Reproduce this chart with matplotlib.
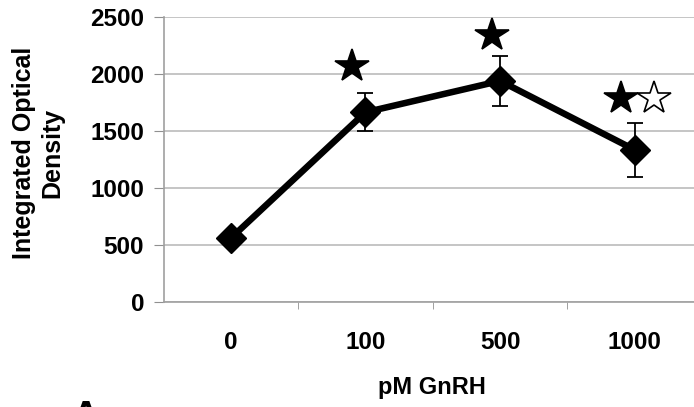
import matplotlib.pyplot as plt
import numpy as np

plt.rcParams['font.family'] = ['Liberation Sans', 'DejaVu Sans']

# data
doses = ['0', '100', '500', '1000']
iod = [560, 1665, 1940, 1335]
iod_err = [55, 165, 220, 240]

# significance stars (category index, height, filled)
star_x = [1 - 0.1, 2 - 0.06, 3 - 0.1, 3 + 0.14]
star_y = [2075, 2340, 1790, 1790]
star_filled = [True, True, True, False]

fig = plt.figure(figsize=(6.94, 4.07), dpi=100)
ax = fig.add_axes([0.2356, 0.258, 0.7644, 0.7])

x = np.arange(len(doses))
ax.errorbar(x, iod, yerr=iod_err, color='black', lw=4.7, marker='D',
            markersize=15, ecolor='black', elinewidth=1.3, capsize=5.5,
            capthick=1.3, zorder=3)

for sx, sy, f in zip(star_x, star_y, star_filled):
    ax.plot(sx, sy, marker='*', markersize=25, color='black',
            markerfacecolor='black' if f else 'white',
            markeredgewidth=1.2, zorder=4, clip_on=False)

ax.set_ylim(0, 2500)
ax.set_xlim(-0.5, 3.44)
ax.set_yticks(np.arange(0, 2501, 500))
ax.yaxis.grid(True, color='#c0c0c0', lw=1.3)
ax.set_axisbelow(True)

ax.set_xticks(x)
ax.set_xticklabels(doses, fontsize=17.5, fontweight='bold')
ax.set_xticks(x[:-1] + 0.5, minor=True)
ax.tick_params(axis='x', which='major', length=0, pad=21)
ax.tick_params(axis='x', which='minor', length=5, color='#909090')
ax.tick_params(axis='y', length=7, color='#909090', labelsize=17.5, pad=7)
for lbl in ax.get_yticklabels():
    lbl.set_fontweight('bold')

for s in ['top', 'right']:
    ax.spines[s].set_visible(False)
for s in ['left', 'bottom']:
    ax.spines[s].set_color('#a0a0a0')
    ax.spines[s].set_linewidth(1.2)

fig.text(0.055, 0.624, 'Integrated Optical\nDensity', rotation=90,
         ha='center', va='center', fontsize=18, fontweight='bold',
         linespacing=1.2)
fig.text(0.6225, 0.047, 'pM GnRH', ha='center', va='center', fontsize=17,
         fontweight='bold')
fig.text(0.122, 0.017, 'A', ha='center', va='top', fontsize=28,
         fontweight='bold')

fig.savefig('out.png', dpi=100)
